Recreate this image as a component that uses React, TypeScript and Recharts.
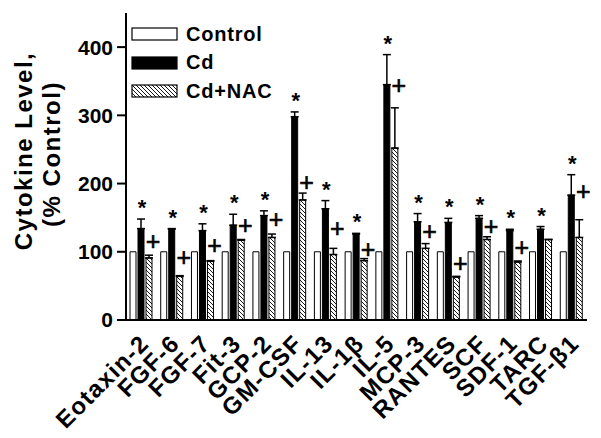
import { BarChart, Bar, XAxis, YAxis, ErrorBar, LabelList, Legend } from 'recharts'

const FONT = '"Liberation Sans", Arial, sans-serif'

const categories = [
  'Eotaxin-2', 'FGF-6', 'FGF-7', 'Fit-3', 'GCP-2', 'GM-CSF', 'IL-13', 'IL-1β',
  'IL-5', 'MCP-3', 'RANTES', 'SCF', 'SDF-1', 'TARC', 'TGF-β1',
]
const control = [100, 100, 100, 100, 100, 100, 100, 100, 100, 100, 100, 100, 100, 100, 100]
const cd = [134, 133, 131, 139, 153, 298, 163, 126, 345, 144, 143, 149, 131, 133, 183]
const cdErr = [14, 1, 10, 16, 7, 7, 12, 1, 44, 12, 6, 4, 2, 4, 30]
const cdNac = [91, 64, 86, 117, 121, 176, 96, 87, 252, 105, 63, 118, 85, 118, 121]
const cdNacErr = [4, 1, 1, 1, 5, 10, 9, 3, 59, 7, 1, 4, 1.5, 0, 26]
// where the "+" marks sit (in % control units); null = no mark
const plusAt: (number | null)[] = [114, 91, 108, 138, 146, 201, 133, 102, 343, 129, 82, 136, 105, null, 188]
const yTicks = [0, 100, 200, 300, 400]
const seriesNames = ['Control', 'Cd', 'Cd+NAC']

const data = categories.map((name, i) => ({
  name,
  control: control[i],
  cd: cd[i],
  cdErr: [0, cdErr[i]],
  nac: cdNac[i],
  nacErr: [0, cdNacErr[i]],
}))

const swatchFill: Record<string, string> = {
  Control: '#fff',
  Cd: '#000',
  'Cd+NAC': 'url(#hatch)',
}

function CategoryTick({ x, y, payload }: any) {
  return (
    <text
      transform={`translate(${x + 9},${y + 25}) rotate(-45)`}
      textAnchor="end"
      fontSize={24}
      fontWeight="bold"
      letterSpacing={1.3}
      fontFamily={FONT}
      fill="#000"
    >
      {payload.value}
    </text>
  )
}

function StarLabel({ x, y, width, height, value }: any) {
  const i = categories.indexOf(value)
  if (i < 0 || !cd[i]) return null
  const perUnit = height / cd[i]
  const top = y - cdErr[i] * perUnit
  return (
    <text x={x + width / 2 + 1} y={top - 4} textAnchor="middle" fontSize={22} fontWeight="bold" fontFamily={FONT} fill="#000">
      *
    </text>
  )
}

function PlusLabel({ x, y, width, height, value }: any) {
  const i = categories.indexOf(value)
  if (i < 0 || plusAt[i] == null) return null
  const perUnit = height / cdNac[i]
  const cy = y + height - (plusAt[i] as number) * perUnit
  return (
    <text x={x + width / 2 + 4} y={cy + 8} textAnchor="middle" fontSize={25} fontFamily={FONT} fill="#000" stroke="#000" strokeWidth={0.6}>
      +
    </text>
  )
}

function YTitle() {
  return (
    <g fontFamily={FONT} fontWeight="bold" fontSize={24} fill="#000" letterSpacing={1.5}>
      <text transform="translate(23,151) rotate(-90)" textAnchor="middle" dominantBaseline="central">
        Cytokine Level,
      </text>
      <text transform="translate(51,154) rotate(-90)" textAnchor="middle" dominantBaseline="central">
        (% Control)
      </text>
    </g>
  )
}

function SeriesLegend() {
  return (
    <div style={{ fontFamily: FONT, fontWeight: 'bold', fontSize: 20, letterSpacing: 0.8, color: '#000' }}>
      {seriesNames.map((name) => (
        <div key={name} style={{ display: 'flex', alignItems: 'center', height: 28.5 }}>
          <svg width={48} height={14} style={{ marginRight: 7 }}>
            <rect x={1} y={1} width={45} height={12} fill={swatchFill[name]} stroke="#000" strokeWidth={1.2} />
          </svg>
          <span>{name}</span>
        </div>
      ))}
    </div>
  )
}

export default function App() {
  return (
    <div style={{ width: 601, height: 438, background: '#fff' }}>
      <style>{'body{margin:0}'}</style>
      <svg width={0} height={0} style={{ position: 'absolute' }}>
        <defs>
          <pattern id="hatch" width={4} height={4} patternUnits="userSpaceOnUse">
            <rect width={4} height={4} fill="#fff" />
            <path d="M-1,-1 L5,5 M3,-1 L5,1 M-1,3 L1,5" stroke="#000" strokeWidth={0.9} />
          </pattern>
        </defs>
      </svg>
      <BarChart
        width={601}
        height={438}
        data={data}
        margin={{ top: 13, right: 14, left: 0, bottom: 0 }}
        barSize={6}
        barGap={2}
        style={{ fontFamily: FONT }}
      >
        <XAxis
          dataKey="name"
          height={118}
          interval={0}
          tickLine={false}
          tickSize={0}
          tickMargin={0}
          axisLine={{ stroke: '#000', strokeWidth: 2 }}
          tick={<CategoryTick />}
        />
        <XAxis xAxisId="frame" dataKey="name" orientation="top" height={0} tick={false} tickLine={false} axisLine={{ stroke: '#000', strokeWidth: 2 }} />
        <YAxis
          width={126}
          domain={[0, 450]}
          ticks={yTicks}
          allowDataOverflow
          tickSize={9}
          tickMargin={4}
          axisLine={{ stroke: '#000', strokeWidth: 2 }}
          tickLine={{ stroke: '#000', strokeWidth: 2 }}
          tick={{ fontSize: 21, fontWeight: 'bold', fill: '#000', fontFamily: FONT }}
          label={<YTitle />}
        />
        <YAxis yAxisId="frame" orientation="right" width={0} domain={[0, 450]} tick={false} tickLine={false} axisLine={{ stroke: '#000', strokeWidth: 2 }} />
        <Legend
          layout="vertical"
          align="center"
          verticalAlign="middle"
          content={<SeriesLegend />}
          wrapperStyle={{ left: 131, top: 20, width: 160, height: 90 }}
        />
        <Bar dataKey="control" name="Control" fill="#fff" stroke="#000" strokeWidth={1} isAnimationActive={false} />
        <Bar dataKey="cd" name="Cd" fill="#000" stroke="#000" strokeWidth={1} isAnimationActive={false}>
          <ErrorBar dataKey="cdErr" width={4} stroke="#000" strokeWidth={1.5} />
          <LabelList dataKey="name" content={<StarLabel />} />
        </Bar>
        <Bar dataKey="nac" name="Cd+NAC" fill="url(#hatch)" stroke="#000" strokeWidth={1} isAnimationActive={false}>
          <ErrorBar dataKey="nacErr" width={4} stroke="#000" strokeWidth={1.5} />
          <LabelList dataKey="name" content={<PlusLabel />} />
        </Bar>
      </BarChart>
    </div>
  )
}
